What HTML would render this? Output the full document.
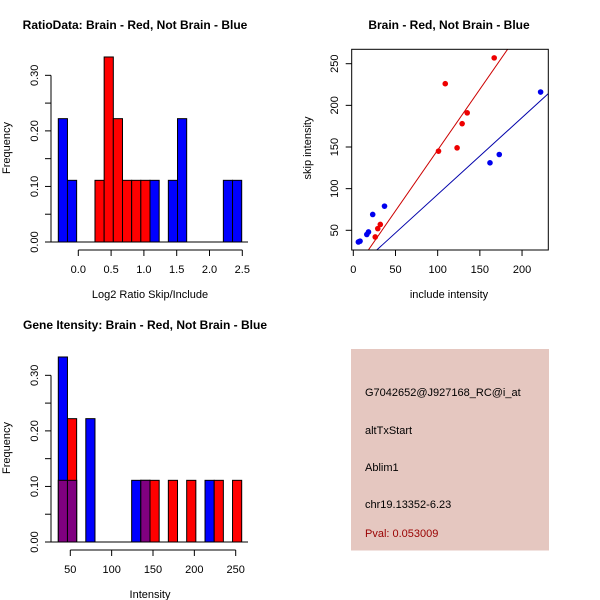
<!DOCTYPE html>
<html><head><meta charset="utf-8"><style>
body{margin:0;background:#fff;}
svg{display:block;font-family:"Liberation Sans",sans-serif;}
</style></head><body>
<svg id="c" width="600" height="600" xmlns="http://www.w3.org/2000/svg"></svg>
<script>
// ----- Panel 1: ratio histogram (bin index -> frequency)
const ratioBlueBins = [0,1,10,12,13,18,19];
const ratioBlueFreq = [0.222,0.111,0.111,0.111,0.222,0.111,0.111];
const ratioRedBins = [4,5,6,7,8,9];
const ratioRedFreq = [0.111,0.333,0.222,0.111,0.111,0.111];
const ratioXTicks = [0.0,0.5,1.0,1.5,2.0,2.5];
const freqTicks = [0.00,0.10,0.20,0.30];
// ----- Panel 2: scatter
const redInclude = [167,109,135,129,101,123,32,29,26];
const redSkip = [257,226,191,178,145,149,57,52,42];
const blueInclude = [222,173,162,37,23,18,16,8,6];
const blueSkip = [216,141,131,79,69,48,45,37,36];
const redFit = [0.3,1.46];
const blueFit = [0.7,0.923];
const scatXTicks = [0,50,100,150,200];
const scatYTicks = [50,100,150,200,250];
// ----- Panel 3: intensity histogram
const intBlueBins = [0,1,3,8,9,16];
const intBlueFreq = [0.333,0.111,0.222,0.111,0.111,0.111];
const intRedBins = [0,1,9,10,12,14,17,19];
const intRedFreq = [0.111,0.222,0.111,0.111,0.111,0.111,0.111,0.111];
const intXTicks = [50,100,150,200,250];

const svg = document.getElementById('c');
const NS = 'http://www.w3.org/2000/svg';
function mk(tag, attrs, parent){
  const e = document.createElementNS(NS, tag);
  for (const k in attrs) e.setAttribute(k, attrs[k]);
  (parent||svg).appendChild(e);
  return e;
}
function txt(s, x, y, opts, parent){
  const t = mk('text', Object.assign({x:x,y:y,'font-size':11,'text-anchor':'middle',fill:'#000'}, opts||{}), parent);
  t.textContent = s;
  return t;
}

// ===== Panel 1 =====
(function(){
  const g = mk('g', {});
  
  
  const yS = v => 242 - v*555.6;
  const xS = v => 78.3 + v*65.6;
  const binX = i => 58.3 + i*9.17;
  const t = txt('RatioData: Brain - Red, Not Brain - Blue', 135, 29, {'font-size':12,'font-weight':'bold'}, g);
  
  
  ratioBlueBins.forEach((b,i)=>{
    const r = mk('rect', {x:binX(b), y:yS(ratioBlueFreq[i]), width:9.17, height:242-yS(ratioBlueFreq[i]), fill:'#0000ff', stroke:'#000','stroke-width':1}, g);
    
    
  });
  ratioRedBins.forEach((b,i)=>{
    const r = mk('rect', {x:binX(b), y:yS(ratioRedFreq[i]), width:9.17, height:242-yS(ratioRedFreq[i]), fill:'#ff0000', stroke:'#000','stroke-width':1}, g);
    
    
  });
  mk('line', {x1:48, y1:242, x2:248, y2:242, stroke:'#000'}, g);
  mk('line', {x1:51, y1:yS(0.3), x2:51, y2:242, stroke:'#000'}, g);
  [0,0.05,0.1,0.15,0.2,0.25,0.3].forEach(v=>mk('line',{x1:45,y1:yS(v),x2:51,y2:yS(v),stroke:'#000'},g));
  freqTicks.forEach(v=>{
    const l = txt(v.toFixed(2), 38, yS(v)+4, {transform:`rotate(-90 34 ${yS(v)})`,x:34,y:yS(v)+4}, g);
    
    
  });
  mk('line', {x1:xS(0), y1:250, x2:xS(2.5), y2:250, stroke:'#000'}, g);
  ratioXTicks.forEach(v=>{
    mk('line',{x1:xS(v),y1:250,x2:xS(v),y2:256,stroke:'#000'},g);
    const l = txt(v.toFixed(1), xS(v), 273, {}, g);
    
    
  });
  const xl = txt('Log2 Ratio Skip/Include', 150, 298, {}, g);
  
  
  const yl = txt('Frequency', 10, 148, {transform:'rotate(-90 10 148)'}, g);
  
  
})();

// ===== Panel 2 =====
(function(){
  const g = mk('g', {});
  
  
  const xS = v => 353.3 + v*0.8437;
  const yS = v => 63.7 + (250-v)*0.833;
  const t = txt('Brain - Red, Not Brain - Blue', 449, 29, {'font-size':12,'font-weight':'bold'}, g);
  
  
  const defs = mk('defs', {}, g);
  const cp = mk('clipPath', {id:'pc'}, defs);
  mk('rect', {x:351.7, y:49.3, width:196.6, height:200.7}, cp);
  const lg = mk('g', {'clip-path':'url(#pc)'}, g);
  [[redFit,'#cc0000','red-fit-line'],[blueFit,'#0000aa','blue-fit-line']].forEach(([f,c,n])=>{
    const x0=-20, x1=300;
    const l = mk('line', {x1:xS(x0), y1:yS(f[0]+f[1]*x0), x2:xS(x1), y2:yS(f[0]+f[1]*x1), stroke:c, 'stroke-width':1}, lg);
    
    
  });
  redInclude.forEach((v,i)=>{
    const p = mk('circle', {cx:xS(v), cy:yS(redSkip[i]), r:2.8, fill:'#ee0000'}, g);
    
    
  });
  blueInclude.forEach((v,i)=>{
    const p = mk('circle', {cx:xS(v), cy:yS(blueSkip[i]), r:2.8, fill:'#0000ee'}, g);
    
    
  });
  mk('rect', {x:351.7, y:49.3, width:196.6, height:200.7, fill:'none', stroke:'#000'}, g);
  scatXTicks.forEach(v=>{
    mk('line',{x1:xS(v),y1:250,x2:xS(v),y2:256,stroke:'#000'},g);
    const l = txt(String(v), xS(v), 273, {}, g);
    
    
  });
  scatYTicks.forEach(v=>{
    mk('line',{x1:345.7,y1:yS(v),x2:351.7,y2:yS(v),stroke:'#000'},g);
    const l = txt(String(v), 334, yS(v)+4, {transform:`rotate(-90 334 ${yS(v)})`}, g);
    
    
  });
  const xl = txt('include intensity', 449, 298, {}, g);
  
  
  const yl = txt('skip intensity', 311, 148, {transform:'rotate(-90 311 148)'}, g);
  
  
})();

// ===== Panel 3 =====
(function(){
  const g = mk('g', {});
  
  
  const base = 542;
  const yS = v => base - v*555.6;
  const xS = v => 70.3 + (v-50)*0.827;
  const binX = i => 58.3 + i*9.17;
  const t = txt('Gene Itensity: Brain - Red, Not Brain - Blue', 145, 329, {'font-size':12,'font-weight':'bold'}, g);
  
  
  function bar(b, f, c, n){
    const r = mk('rect', {x:binX(b), y:yS(f), width:9.17, height:base-yS(f), fill:c, stroke:'#000','stroke-width':1}, g);
    
    
  }
  intBlueBins.forEach((b,i)=>bar(b,intBlueFreq[i],'#0000ff','intensity-bar-blue'));
  intRedBins.forEach((b,i)=>{
    const j = intBlueBins.indexOf(b);
    const bf = j>=0 ? intBlueFreq[j] : 0;
    if (intRedFreq[i] > bf) bar(b,intRedFreq[i],'#ff0000','intensity-bar-red');
    if (bf>0) bar(b,Math.min(bf,intRedFreq[i]),'#800080','intensity-bar-overlap');
  });
  mk('line', {x1:48, y1:base, x2:248, y2:base, stroke:'#000'}, g);
  mk('line', {x1:51, y1:yS(0.3), x2:51, y2:base, stroke:'#000'}, g);
  [0,0.05,0.1,0.15,0.2,0.25,0.3].forEach(v=>mk('line',{x1:45,y1:yS(v),x2:51,y2:yS(v),stroke:'#000'},g));
  freqTicks.forEach(v=>{
    const l = txt(v.toFixed(2), 34, yS(v)+4, {transform:`rotate(-90 34 ${yS(v)})`}, g);
    
    
  });
  mk('line', {x1:xS(50), y1:550, x2:xS(250), y2:550, stroke:'#000'}, g);
  intXTicks.forEach(v=>{
    mk('line',{x1:xS(v),y1:550,x2:xS(v),y2:556,stroke:'#000'},g);
    const l = txt(String(v), xS(v), 573, {}, g);
    
    
  });
  const xl = txt('Intensity', 150, 598, {}, g);
  
  
  const yl = txt('Frequency', 10, 448, {transform:'rotate(-90 10 448)'}, g);
  
  
})();

// ===== Panel 4: info box =====
(function(){
  const g = mk('g', {});
  
  
  mk('rect', {x:351, y:349, width:198, height:201.5, fill:'#e5c7c0'}, g);
  const lines = [['G7042652@J927168_RC@i_at',396,'#000','probe-id'],['altTxStart',434,'#000','event-type'],['Ablim1',471,'#000','gene-name'],['chr19.13352-6.23',508,'#000','location'],['Pval: 0.053009',537,'#990000','p-value']];
  lines.forEach(([s,y,c,n])=>{
    const l = txt(s, 365, y, {'text-anchor':'start', fill:c}, g);
    
    
  });
})();
</script>
</body></html>
